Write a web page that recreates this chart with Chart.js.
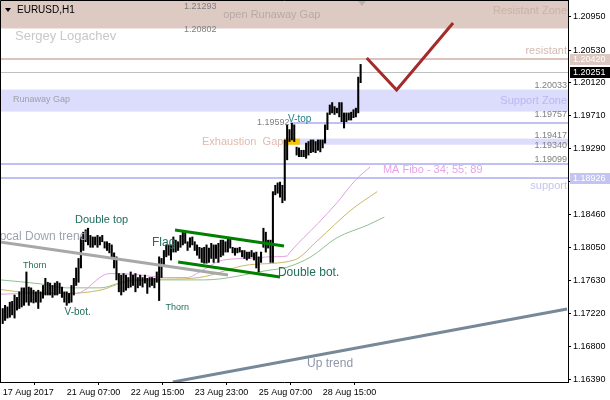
<!DOCTYPE html>
<html>
<head>
<meta charset="utf-8">
<script src="https://cdn.jsdelivr.net/npm/chart.js@4"></script>
<style>
html, body { margin: 0; padding: 0; background: #fff; }
#wrap { width: 610px; height: 400px; }
</style>
</head>
<body>
<div id="wrap"><canvas id="chart"></canvas></div>
<script>
// EURUSD H1 bars (high / low per bar)
const barHigh = [
  1.1728,1.1732,1.1730,1.1736,1.1737,1.1745,1.1742,1.1749,1.1754,1.1754,
  1.1774,1.1755,1.1754,1.1751,1.1749,1.1751,1.1749,1.1757,1.1766,1.1761,
  1.1760,1.1757,1.1760,1.1762,1.1760,1.1755,1.1749,1.1749,1.1747,1.1757,
  1.1766,1.1779,1.1791,1.1818,1.1824,1.1827,1.1829,1.1820,1.1818,1.1818,
  1.1820,1.1818,1.1820,1.1812,1.1812,1.1810,1.1808,1.1798,1.1793,1.1772,
  1.1770,1.1772,1.1770,1.1767,1.1774,1.1770,1.1772,1.1767,1.1770,1.1767,
  1.1770,1.1766,1.1767,1.1767,1.1766,1.1774,1.1793,1.1791,1.1801,1.1808,
  1.1808,1.1808,1.1818,1.1814,1.1812,1.1820,1.1824,1.1823,1.1812,1.1817,
  1.1818,1.1812,1.1808,1.1805,1.1804,1.1805,1.1808,1.1804,1.1810,1.1808,
  1.1808,1.1810,1.1814,1.1814,1.1812,1.1817,1.1817,1.1805,1.1804,1.1804,
  1.1805,1.1801,1.1801,1.1799,1.1799,1.1801,1.1798,1.1799,1.1793,1.1799,
  1.1829,1.1824,1.1814,1.1814,1.1875,1.1883,1.1886,1.1887,1.1883,1.1940,
  1.1959,1.1953,1.1961,1.1959,1.1931,1.1930,1.1927,1.1927,1.1936,1.1938,
  1.1940,1.1940,1.1938,1.1940,1.1940,1.1940,1.1959,1.1974,1.1984,1.1987,
  1.1982,1.1980,1.1987,1.1987,1.1974,1.1974,1.1974,1.1975,1.1978,1.1980,
  1.2019,1.2035
];
const barLow = [
  1.1709,1.1713,1.1716,1.1717,1.1720,1.1716,1.1726,1.1728,1.1730,1.1732,
  1.1736,1.1732,1.1736,1.1735,1.1736,1.1728,1.1736,1.1741,1.1745,1.1745,
  1.1745,1.1742,1.1745,1.1745,1.1747,1.1742,1.1736,1.1732,1.1735,1.1736,
  1.1745,1.1757,1.1761,1.1779,1.1801,1.1812,1.1808,1.1805,1.1805,1.1808,
  1.1805,1.1808,1.1812,1.1804,1.1801,1.1798,1.1793,1.1779,1.1764,1.1749,
  1.1745,1.1749,1.1751,1.1754,1.1755,1.1757,1.1749,1.1754,1.1757,1.1755,
  1.1760,1.1747,1.1755,1.1757,1.1754,1.1761,1.1738,1.1767,1.1783,1.1793,
  1.1795,1.1789,1.1799,1.1799,1.1801,1.1805,1.1808,1.1810,1.1801,1.1805,
  1.1808,1.1801,1.1795,1.1791,1.1786,1.1785,1.1785,1.1786,1.1791,1.1786,
  1.1791,1.1786,1.1793,1.1795,1.1799,1.1799,1.1804,1.1798,1.1795,1.1798,
  1.1799,1.1793,1.1791,1.1789,1.1791,1.1793,1.1789,1.1779,1.1774,1.1786,
  1.1805,1.1799,1.1804,1.1786,1.1786,1.1871,1.1873,1.1868,1.1861,1.1864,
  1.1915,1.1938,1.1940,1.1938,1.1921,1.1919,1.1919,1.1919,1.1917,1.1921,
  1.1924,1.1925,1.1924,1.1927,1.1925,1.1930,1.1936,1.1953,1.1972,1.1974,
  1.1972,1.1974,1.1969,1.1963,1.1955,1.1963,1.1965,1.1965,1.1968,1.1969,
  1.1974,1.2012
];

// time axis
const xTickAt = [0, 27, 54, 81, 108, 135];
const xTickText = ['17 Aug 2017', '21 Aug 07:00', '22 Aug 15:00', '23 Aug 23:00', '25 Aug 07:00', '28 Aug 15:00'];
// price axis
const yTickVals = [1.20950, 1.20530, 1.20120, 1.19710, 1.19290, 1.18880, 1.18460, 1.18050, 1.17630, 1.17220, 1.16800, 1.16390];

// MA Fibo 34 / 55 / 89 (bar index, price)
const ma34At = [-1, 13, 31, 45, 55, 69, 78, 83, 93, 104, 112, 120, 121, 133, 141, 149, 155];
const ma34 = [1.1746, 1.1747, 1.1747, 1.1772, 1.1771, 1.1767, 1.1767, 1.1774, 1.1789, 1.1791, 1.1793, 1.1794, 1.1798, 1.1835, 1.1861, 1.1890, 1.1906];
const ma55At = [-1, 7, 27, 41, 55, 69, 83, 104, 123, 133, 147, 158];
const ma55 = [1.1752, 1.1749, 1.1747, 1.1751, 1.1764, 1.1765, 1.1767, 1.1783, 1.1789, 1.1814, 1.1852, 1.1875];
const ma89At = [-1, 16, 27, 41, 52, 69, 85, 112, 120, 130, 141, 154, 161];
const ma89 = [1.1764, 1.1759, 1.1754, 1.1754, 1.1762, 1.1764, 1.1764, 1.1776, 1.1780, 1.1793, 1.1817, 1.1833, 1.1843];

// trend lines and forecast (bar index, price)
const downTrendAt = [-1.14, 95.05];
const downTrend = [1.18117, 1.17702];
const upTrendAt = [71.8, 238.1];
const upTrend = [1.16356, 1.17274];
const flagTopAt = [72.7, 118.7];
const flagTop = [1.18267, 1.18066];
const flagBotAt = [74.0, 117.0];
const flagBot = [1.17865, 1.17676];
const forecastAt = [153.6, 166.2, 190.0];
const forecast = [1.20431, 1.20028, 1.20871];

// horizontal levels and zones
const resistZone = [1.20802, 1.21293];
const supportZone = [1.19757, 1.20033];
const gapZone = [1.19340, 1.19417];
const gapStartAt = 118.7;
const gapMarkEndAt = 125.4;
const vTopLineAt = 121.2;
const vTopLevel = 1.19610;
const resistLevel = 1.20420;
const lastPrice = 1.20251;
const fiboLevels = [1.19099, 1.18926];

const pts = (xs, ys) => xs.map((x, i) => ({x: x, y: ys[i]}));
const FONT = "'Liberation Sans', Arial, sans-serif";
const PAT = '#226e5c';

// text notes placed in data space
const notes = [
  {t: 'Local Down trend', at: -4.1, p: 1.18180, s: 12, c: '#9ea4b0'},
  {t: 'Double top', at: 30.5, p: 1.18393, s: 11, c: PAT},
  {t: 'Thorn', at: 8.6, p: 1.17815, s: 9, c: PAT},
  {t: 'V-bot.', at: 26.1, p: 1.17230, s: 10, c: PAT},
  {t: 'Thorn', at: 68.7, p: 1.17287, s: 9, c: PAT},
  {t: 'Flag', at: 63.0, p: 1.18104, s: 12, c: PAT},
  {t: 'Double bot.', at: 116.1, p: 1.17727, s: 12, c: PAT},
  {t: 'V-top', at: 120.4, p: 1.19663, s: 10, c: '#1d7f86'},
  {t: '1.19592', at: 107.3, p: 1.19619, s: 9, c: '#808080'},
  {t: 'Exhaustion  Gap', at: 84.1, p: 1.19374, s: 11, c: '#e3b9ae'},
  {t: 'MA Fibo - 34; 55; 89', at: 160.4, p: 1.19022, s: 11, c: '#e6a4e6'},
  {t: '1.21293', at: 76.5, p: 1.21076, s: 9, c: '#808080'},
  {t: '1.20802', at: 76.5, p: 1.20783, s: 9, c: '#808080'},
  {t: 'open Runaway Gap', at: 93.0, p: 1.20971, s: 11, c: '#b8aaa6'},
  {t: 'Runaway Gap', at: 4.3, p: 1.19911, s: 9, c: '#a0a0a8'},
  {t: 'Sergey Logachev', at: 5.2, p: 1.20698, s: 13, c: '#c8c8c8'},
  {t: 'Up trend', at: 128.4, p: 1.16582, s: 12, c: '#8e96aa'},
  {t: 'Resistant Zone', at: null, p: 1.21022, s: 11, c: '#c9b2a9'},
  {t: 'resistant', at: null, p: 1.20519, s: 11, c: '#d4bab2'},
  {t: 'Support Zone', at: null, p: 1.19890, s: 11, c: '#b8b8f4'},
  {t: 'support', at: null, p: 1.18821, s: 11, c: '#c4c4f0'},
  {t: '1.20033', at: null, p: 1.20079, s: 9, c: '#808080'},
  {t: '1.19757', at: null, p: 1.19715, s: 9, c: '#808080'},
  {t: '1.19417', at: null, p: 1.19462, s: 9, c: '#808080'},
  {t: '1.19340', at: null, p: 1.19324, s: 9, c: '#808080'},
  {t: '1.19099', at: null, p: 1.19157, s: 9, c: '#808080'}
];

// price boxes on the right axis
const axisBoxes = [
  {p: resistLevel, bg: '#dcc8c0'},
  {p: lastPrice, bg: '#000000'},
  {p: fiboLevels[1], bg: '#c4c4f2'}
];

const noPad = s => { s.paddingTop = 0; s.paddingBottom = 0; s.paddingLeft = 0; s.paddingRight = 0; };

const decor = {
  id: 'decor',
  beforeDatasetsDraw(chart) {
    const {ctx, chartArea: a, scales: {x, y}} = chart;
    ctx.save();
    ctx.beginPath();
    ctx.rect(a.left, a.top, a.right - a.left, a.bottom - a.top);
    ctx.clip();
    const band = (lo, hi, x1, col) => {
      const y1 = y.getPixelForValue(hi), y2 = y.getPixelForValue(lo);
      ctx.fillStyle = col;
      ctx.fillRect(x1, y1, a.right - x1, y2 - y1);
    };
    const hline = (p, x1, col, w) => {
      const py = Math.round(y.getPixelForValue(p)) + (w % 2 ? 0.5 : 0);
      ctx.strokeStyle = col;
      ctx.lineWidth = w;
      ctx.beginPath();
      ctx.moveTo(x1, py);
      ctx.lineTo(a.right, py);
      ctx.stroke();
    };
    band(resistZone[0], resistZone[1], a.left, '#ddcac3');
    band(supportZone[0], supportZone[1], a.left, '#dcdcfc');
    const gx = x.getPixelForValue(gapStartAt);
    band(gapZone[0], gapZone[1], gx, '#dcdcfc');
    ctx.fillStyle = '#f7c600';
    const gy1 = y.getPixelForValue(gapZone[1]), gy2 = y.getPixelForValue(gapZone[0]);
    ctx.fillRect(gx, gy1, x.getPixelForValue(gapMarkEndAt) - gx, gy2 - gy1);
    hline(resistLevel, a.left, '#dcc4bc', 2);
    hline(lastPrice, a.left, '#c0c0c0', 1);
    hline(vTopLevel, x.getPixelForValue(vTopLineAt), '#c0c0f4', 2);
    fiboLevels.forEach(p => hline(p, a.left, '#c0c0f4', 2));
    ctx.restore();
  },
  afterDatasetsDraw(chart) {
    const {ctx, chartArea: a, scales: {x, y}} = chart;
    ctx.save();
    ctx.beginPath();
    ctx.rect(a.left, a.top, a.right - a.left, a.bottom - a.top);
    ctx.clip();
    ctx.textBaseline = 'middle';
    notes.forEach(n => {
      ctx.font = n.s + 'px ' + FONT;
      ctx.fillStyle = n.c;
      if (n.at === null) {
        ctx.textAlign = 'right';
        ctx.fillText(n.t, a.right - 1, y.getPixelForValue(n.p));
      } else {
        ctx.textAlign = 'left';
        ctx.fillText(n.t, x.getPixelForValue(n.at), y.getPixelForValue(n.p));
      }
    });
    // chart title with its little menu arrow
    ctx.fillStyle = '#000';
    ctx.beginPath();
    ctx.moveTo(5, 8); ctx.lineTo(11, 8); ctx.lineTo(8, 12); ctx.closePath();
    ctx.fill();
    ctx.font = '10px ' + FONT;
    ctx.textAlign = 'left';
    ctx.fillText('EURUSD,H1', 17, 10);
    // chart shift marker
    ctx.fillStyle = '#b4b4b4';
    ctx.beginPath();
    ctx.moveTo(358, 1); ctx.lineTo(366, 1); ctx.lineTo(362, 6); ctx.closePath();
    ctx.fill();
    ctx.restore();
  },
  afterDraw(chart) {
    const {ctx, chartArea: a, scales: {y}} = chart;
    ctx.save();
    ctx.strokeStyle = '#000';
    ctx.lineWidth = 1;
    ctx.beginPath();
    ctx.moveTo(0.5, a.bottom);
    ctx.lineTo(0.5, 0.5);
    ctx.lineTo(a.right, 0.5);
    ctx.stroke();
    ctx.font = '9px ' + FONT;
    ctx.textBaseline = 'middle';
    ctx.textAlign = 'left';
    axisBoxes.forEach(b => {
      const py = Math.round(y.getPixelForValue(b.p));
      ctx.fillStyle = b.bg;
      ctx.fillRect(a.right + 2, py - 5, 610 - a.right - 2, 11);
      ctx.fillStyle = '#fff';
      ctx.fillText(b.p.toFixed(5), a.right + 5, py + 0.5);
    });
    ctx.restore();
  }
};

new Chart(document.getElementById('chart').getContext('2d'), {
  type: 'bar',
  data: {
    datasets: [
      {type: 'line', data: pts(forecastAt, forecast), borderColor: '#a52a2a', borderWidth: 3, pointRadius: 0, order: 0},
      {type: 'line', data: pts(flagTopAt, flagTop), borderColor: '#008000', borderWidth: 3, pointRadius: 0, order: 0},
      {type: 'line', data: pts(flagBotAt, flagBot), borderColor: '#008000', borderWidth: 3, pointRadius: 0, order: 0},
      {type: 'line', data: pts(upTrendAt, upTrend), borderColor: '#778899', borderWidth: 3, pointRadius: 0, order: 1},
      {type: 'line', data: pts(downTrendAt, downTrend), borderColor: '#a8a8a8', borderWidth: 3, pointRadius: 0, order: 1},
      {
        type: 'bar',
        data: barHigh.map((h, i) => ({x: i, y: [barLow[i], h]})),
        backgroundColor: '#000',
        barThickness: 1.4,
        order: 2
      },
      {type: 'line', data: pts(ma34At, ma34), borderColor: '#e0a0e0', borderWidth: 1, pointRadius: 0, cubicInterpolationMode: 'monotone', order: 3},
      {type: 'line', data: pts(ma55At, ma55), borderColor: '#c8b868', borderWidth: 1, pointRadius: 0, cubicInterpolationMode: 'monotone', order: 3},
      {type: 'line', data: pts(ma89At, ma89), borderColor: '#90c090', borderWidth: 1, pointRadius: 0, cubicInterpolationMode: 'monotone', order: 3}
    ]
  },
  options: {
    responsive: true,
    maintainAspectRatio: false,
    animation: false,
    layout: {padding: {left: 0, top: 0, right: 0, bottom: 0}},
    plugins: {
      legend: {display: false},
      tooltip: {enabled: false}
    },
    scales: {
      x: {
        type: 'linear',
        offset: false,
        min: -1.14,
        max: 238.5,
        afterBuildTicks: s => { s.ticks = xTickAt.map(v => ({value: v})); },
        afterFit: s => { s.height = 18; noPad(s); },
        grid: {drawOnChartArea: false, drawTicks: true, tickLength: 3, color: '#000'},
        border: {color: '#000'},
        ticks: {
          autoSkip: false,
          maxRotation: 0,
          align: 'start',
          padding: 2,
          color: '#000',
          font: {family: FONT, size: 9},
          callback: v => xTickText[xTickAt.indexOf(v)]
        }
      },
      y: {
        position: 'right',
        min: 1.16356,
        max: 1.21160,
        afterBuildTicks: s => { s.ticks = yTickVals.map(v => ({value: v})); },
        afterFit: s => { s.width = 42; noPad(s); },
        grid: {drawOnChartArea: false, drawTicks: true, tickLength: 3, color: '#000'},
        border: {color: '#000'},
        ticks: {
          padding: 2,
          color: '#000',
          font: {family: FONT, size: 9},
          callback: v => v.toFixed(5)
        }
      }
    }
  },
  plugins: [decor]
});
</script>
</body>
</html>
